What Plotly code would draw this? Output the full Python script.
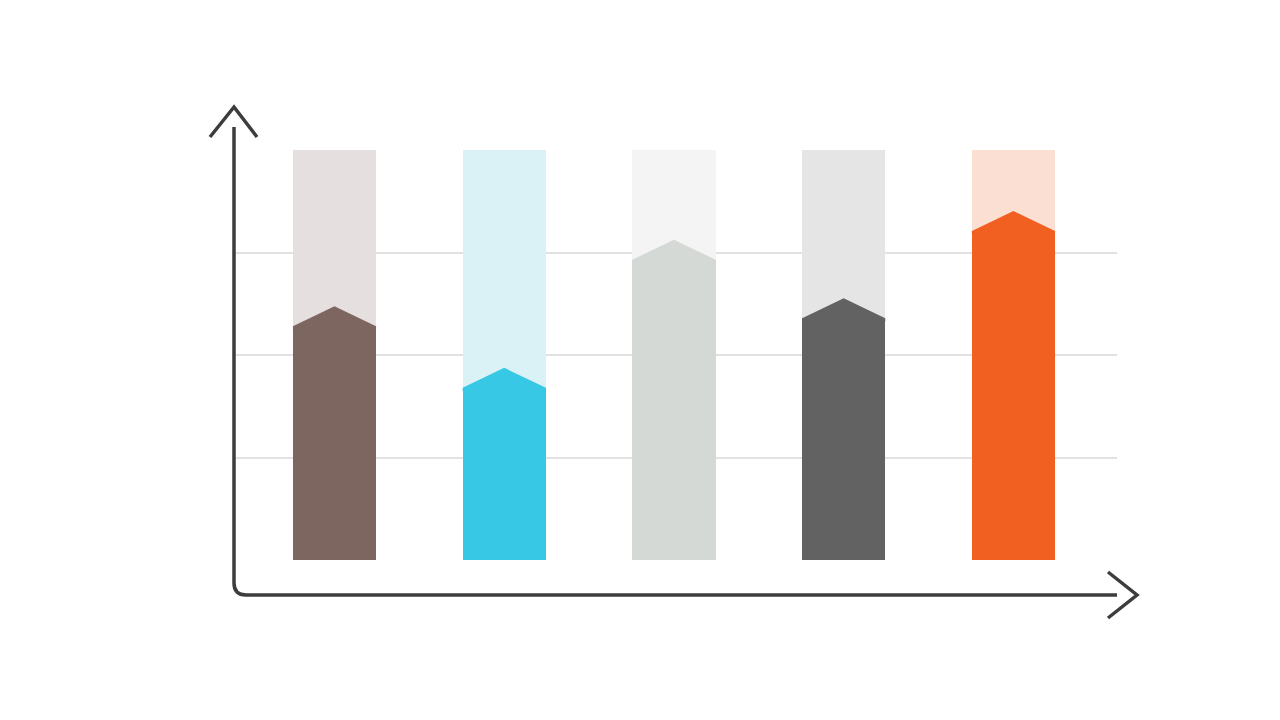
import plotly.graph_objects as go

# bar data
categories = [0, 1, 2, 3, 4]
target_values = [4.0, 4.0, 4.0, 4.0, 4.0]
actual_values = [2.28, 1.68, 2.93, 2.36, 3.21]
grid_values = [1, 2, 3]

bg_colors = ['#e5e0df', '#daf1f6', '#f4f4f4', '#e5e5e5', '#fbdfd3']
fg_colors = ['#7d6660', '#37c8e5', '#d5d9d5', '#626262', '#f26021']

BAR_W = 0.49
TIP = 0.195  # height of the chevron point
SEAM = 0.03  # small overlap so no seam shows between bar and tip

# page offset added by the default body margin
OFF = 8
# plot area in page pixels (used only for axis decorations)
L, R, T, B = 234, 1117, 108, 595


def px(x):
    return (x - L) / (R - L)


def py(y):
    return (B - y) / (B - T)


fig = go.Figure()

# light background bars
fig.add_trace(go.Bar(
    x=categories, y=target_values, width=BAR_W,
    marker=dict(color=bg_colors, line=dict(width=0)),
    hoverinfo='skip', showlegend=False
))

# coloured bars up to the shoulder
fig.add_trace(go.Bar(
    x=categories, y=actual_values, width=BAR_W,
    marker=dict(color=fg_colors, line=dict(width=0)),
    showlegend=False
))

# chevron tips on top of each bar
for c, v, col in zip(categories, actual_values, fg_colors):
    left, right = c - BAR_W / 2, c + BAR_W / 2
    fig.add_trace(go.Scatter(
        x=[left, left, c, right, right, left],
        y=[v - SEAM, v, v + TIP, v, v - SEAM, v - SEAM],
        mode='lines', fill='toself', fillcolor=col,
        line=dict(width=0, color=col),
        hoverinfo='skip', showlegend=False
    ))

axis_col = '#3d3d3d'
shapes = [
    # axis lines with rounded corner
    dict(type='path', xref='paper', yref='paper',
         path=f"M {px(234)},{py(127)} L {px(234)},{py(583)} "
              f"Q {px(234)},{py(595)} {px(246)},{py(595)} L {px(1117)},{py(595)}",
         line=dict(color=axis_col, width=3.5)),
    # y arrow head
    dict(type='path', xref='paper', yref='paper',
         path=f"M {px(210)},{py(137)} L {px(234)},{py(107)} L {px(257)},{py(137)}",
         line=dict(color=axis_col, width=3.5)),
    # x arrow head
    dict(type='path', xref='paper', yref='paper',
         path=f"M {px(1108)},{py(572)} L {px(1137)},{py(595)} L {px(1108)},{py(618)}",
         line=dict(color=axis_col, width=3.5)),
]

fig.update_layout(
    width=1280, height=720,
    margin=dict(l=L - OFF, r=1280 - R + OFF, t=T - OFF, b=720 - B + OFF),
    paper_bgcolor='white', plot_bgcolor='white',
    barmode='overlay', bargap=0,
    shapes=shapes,
    xaxis=dict(range=[-0.592, 4.61], showgrid=False, zeroline=False,
               showticklabels=False, showline=False, fixedrange=True),
    yaxis=dict(range=[-0.341, 4.41], tickvals=grid_values, showgrid=True,
               gridcolor='#e2e2e2', gridwidth=1.5, zeroline=False,
               showticklabels=False, showline=False, fixedrange=True),
)

fig.write_html("out.html")
